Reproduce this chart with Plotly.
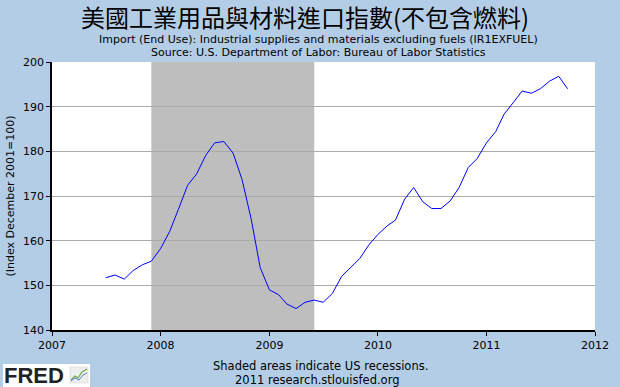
import plotly.graph_objects as go

months = [
    "2007-07-01", "2007-08-01", "2007-09-01", "2007-10-01", "2007-11-01", "2007-12-01",
    "2008-01-01", "2008-02-01", "2008-03-01", "2008-04-01", "2008-05-01", "2008-06-01",
    "2008-07-01", "2008-08-01", "2008-09-01", "2008-10-01", "2008-11-01", "2008-12-01",
    "2009-01-01", "2009-02-01", "2009-03-01", "2009-04-01", "2009-05-01", "2009-06-01",
    "2009-07-01", "2009-08-01", "2009-09-01", "2009-10-01", "2009-11-01", "2009-12-01",
    "2010-01-01", "2010-02-01", "2010-03-01", "2010-04-01", "2010-05-01", "2010-06-01",
    "2010-07-01", "2010-08-01", "2010-09-01", "2010-10-01", "2010-11-01", "2010-12-01",
    "2011-01-01", "2011-02-01", "2011-03-01", "2011-04-01", "2011-05-01", "2011-06-01",
    "2011-07-01", "2011-08-01", "2011-09-01", "2011-10-01",
]
index_values = [
    151.7, 152.3, 151.4, 153.3, 154.6, 155.4,
    158.2, 162.1, 167.0, 172.4, 174.9, 179.1,
    181.9, 182.2, 179.6, 173.7, 164.8, 154.0,
    149.0, 147.9, 145.8, 144.8, 146.2, 146.7,
    146.2, 148.2, 152.0, 154.0, 156.0, 159.0,
    161.4, 163.3, 164.6, 169.3, 171.9, 168.7,
    167.2, 167.2, 168.9, 171.9, 176.4, 178.4,
    181.9, 184.4, 188.3, 190.9, 193.5, 193.0,
    194.0, 195.7, 196.8, 194.0,
]
recession_start = "2007-12-01"
recession_end = "2009-06-01"
year_ticks = ["2007-01-01", "2008-01-01", "2009-01-01", "2010-01-01", "2011-01-01", "2012-01-01"]
year_labels = ["2007", "2008", "2009", "2010", "2011", "2012"]
y_ticks = [140, 150, 160, 170, 180, 190, 200]

title_text = "美國工業用品與材料進口指數(不包含燃料)"
subtitle_1 = "Import (End Use): Industrial supplies and materials excluding fuels (IR1EXFUEL)"
subtitle_2 = "Source: U.S. Department of Labor: Bureau of Labor Statistics"
y_title = "(Index December 2001=100)"
footer_1 = "Shaded areas indicate US recessions."
footer_2 = "2011 research.stlouisfed.org"

BG = "#B4CDE6"
FONT = "DejaVu Sans"
L, R, T, B = 52, 25, 62, 57
PW, PH = 620 - L - R, 387 - T - B

fig = go.Figure()
fig.add_trace(go.Scatter(
    x=months, y=index_values, mode="lines",
    line=dict(color="#0000FF", width=1), showlegend=False,
))

fig.add_vrect(x0=recession_start, x1=recession_end, fillcolor="#BEBEBE",
              opacity=1, line_width=0, layer="below")

fig.update_layout(
    width=620, height=387,
    paper_bgcolor=BG, plot_bgcolor="white",
    margin=dict(l=L, r=R, t=T, b=B, autoexpand=False),
    font=dict(family=FONT, size=11, color="black"),
    xaxis=dict(
        type="date", range=["2007-01-01", "2012-01-01"],
        tickvals=year_ticks, ticktext=year_labels,
        showgrid=False, showline=True, linecolor="black", linewidth=1.5,
        ticks="outside", ticklen=4, tickcolor="black",
        tickfont=dict(family=FONT, size=11), zeroline=False, automargin=False,
    ),
    yaxis=dict(
        range=[140, 200], tickvals=y_ticks,
        showgrid=True, gridcolor="#AAAAAA", gridwidth=1,
        showline=True, linecolor="black", linewidth=1.5,
        ticks="outside", ticklen=4, tickcolor="black",
        tickfont=dict(family=FONT, size=11), zeroline=False, automargin=False,
        title=dict(text=y_title, font=dict(family=FONT, size=11), standoff=6),
        layer="above traces",
    ),
)


def px_to_paper(x, y):
    return (x - L) / PW, 1 - (y - T) / PH


annotations = [
    dict(text=title_text, x=305, y=17, font=dict(family="Noto Sans CJK TC", size=24, color="black")),
    dict(text=subtitle_1, x=318, y=39.5, font=dict(family=FONT, size=11, color="black")),
    dict(text=subtitle_2, x=318, y=52.5, font=dict(family=FONT, size=11, color="black")),
    dict(text=footer_1, x=320, y=366, font=dict(family=FONT, size=11.5, color="black")),
    dict(text=footer_2, x=317, y=380, font=dict(family=FONT, size=11.5, color="black")),
]
for a in annotations:
    ax, ay = px_to_paper(a["x"], a["y"])
    fig.add_annotation(
        text=a["text"], xref="paper", yref="paper", x=ax, y=ay,
        xanchor="center", yanchor="middle", showarrow=False, font=a["font"],
    )

# FRED logo (decorative)
x0, y0 = px_to_paper(3, 364)
x1, y1 = px_to_paper(90, 387)
fig.add_shape(type="rect", xref="paper", yref="paper", x0=x0, y0=y0, x1=x1, y1=y1,
              fillcolor="white", line_width=0, layer="above")
lx, ly = px_to_paper(34, 375.5)
fig.add_annotation(text="<b>FRED</b>", xref="paper", yref="paper", x=lx, y=ly,
                   showarrow=False, xanchor="center", yanchor="middle",
                   font=dict(family="Liberation Sans", size=22, color="#222222"))
ix0, iy0 = px_to_paper(70, 383)
ix1, iy1 = px_to_paper(88, 367)
fig.add_shape(type="rect", xref="paper", yref="paper", x0=ix0, y0=iy0, x1=ix1, y1=iy1,
              fillcolor="#EEEEEE", line=dict(color="#CCCCCC", width=0.5), layer="above")
p = [px_to_paper(*q) for q in [(71, 380), (75, 376), (78, 378), (82, 372), (87, 369)]]
fig.add_shape(type="path", xref="paper", yref="paper",
              path="M " + " L ".join(f"{a},{b}" for a, b in p),
              line=dict(color="#6AA84F", width=1.2), layer="above")
p2 = [px_to_paper(*q) for q in [(71, 381), (75, 378), (79, 380), (83, 375), (87, 373)]]
fig.add_shape(type="path", xref="paper", yref="paper",
              path="M " + " L ".join(f"{a},{b}" for a, b in p2),
              line=dict(color="#5B7FCB", width=1), layer="above")

fig.write_html("out.html", config={"displayModeBar": False},
               post_script="document.body.style.margin='0';")
